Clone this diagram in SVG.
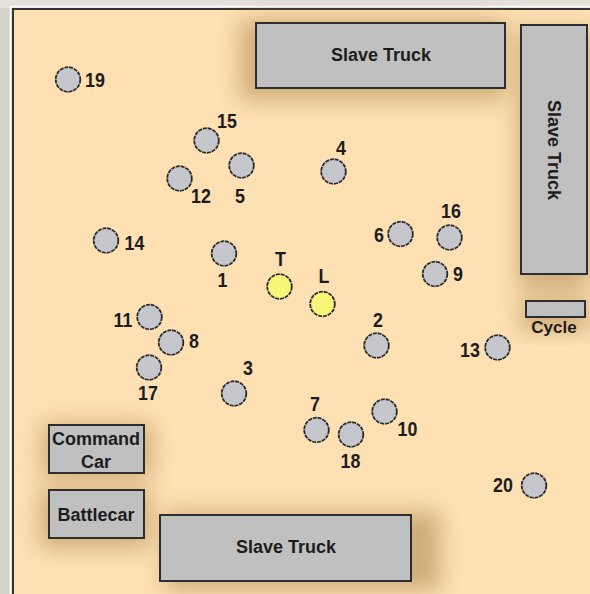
<svg xmlns="http://www.w3.org/2000/svg" width="590" height="594" viewBox="0 0 590 594">
<defs>
<linearGradient id="bgL" x1="0" y1="0" x2="1" y2="0">
<stop offset="0" stop-color="#d6d3cb"/><stop offset="1" stop-color="#eeece6"/>
</linearGradient>
<filter id="blur" x="-50%" y="-50%" width="200%" height="200%"><feGaussianBlur stdDeviation="11"/></filter>
<style>
.box{fill:#c0c0c0;stroke:#2e2e2e;stroke-width:2}
.shadow{fill:#b08a55;opacity:0.6;filter:url(#blur)}
.node{fill:#c6c7cc;stroke:#2a2a2a;stroke-width:1.8;stroke-dasharray:4 0.9}
.lead{fill:#f7f77a;stroke:#2a2a2a;stroke-width:1.8;stroke-dasharray:4 0.9}
.lbl{font-family:"Liberation Sans",Arial,sans-serif;font-weight:bold;font-size:21px;fill:#1c1c1c;text-anchor:middle}
.btxt{font-family:"Liberation Sans",Arial,sans-serif;font-weight:bold;font-size:18px;fill:#1c1c1c;text-anchor:middle}
</style>
</defs>
<rect x="0" y="0" width="590" height="594" fill="url(#bgL)"/>
<rect x="0" y="0" width="590" height="8" fill="#e4e1da"/>
<line x1="11" y1="6.5" x2="590" y2="6.5" stroke="#ffffff" stroke-width="1.5"/>
<line x1="10.5" y1="6" x2="10.5" y2="594" stroke="#ffffff" stroke-width="1.5"/>
<rect x="13" y="9" width="600" height="600" fill="#fee0b3" stroke="#333333" stroke-width="2"/>

<g id="shadows">
<rect class="shadow" x="240" y="20" width="265" height="80"/>
<rect class="shadow" x="518" y="30" width="72" height="260"/>
<rect class="shadow" x="520" y="300" width="70" height="30"/>
<rect class="shadow" x="42" y="424" width="110" height="54"/>
<rect class="shadow" x="40" y="490" width="110" height="58"/>
<rect class="shadow" x="165" y="512" width="275" height="78"/>
</g>

<g id="connectors"/>

<g id="slave-truck-top"><rect class="box" x="256" y="23" width="249" height="65"/><text class="btxt" x="381" y="61">Slave Truck</text></g>
<g id="slave-truck-right"><rect class="box" x="521" y="25" width="66" height="249"/><text class="btxt" transform="translate(554,150) rotate(90)" x="0" y="6">Slave Truck</text></g>
<g id="cycle"><rect class="box" x="526" y="301" width="59" height="16"/><text class="btxt" x="554" y="333" style="font-size:17px">Cycle</text></g>
<g id="command-car"><rect class="box" x="49" y="425" width="95" height="48"/><text class="btxt" x="96" y="445">Command</text><text class="btxt" x="96" y="468">Car</text></g>
<g id="battlecar"><rect class="box" x="49" y="490" width="95" height="48"/><text class="btxt" x="96" y="521">Battlecar</text></g>
<g id="slave-truck-bottom"><rect class="box" x="160" y="515" width="251" height="66"/><text class="btxt" x="286" y="553">Slave Truck</text></g>

<g id="n19"><circle class="node" cx="68" cy="79.5" r="12.3"/><text class="lbl" transform="translate(95,87) scale(0.85,1)">19</text></g>
<g id="n15"><circle class="node" cx="206.5" cy="140.5" r="12.3"/><text class="lbl" transform="translate(227,128) scale(0.85,1)">15</text></g>
<g id="n5"><circle class="node" cx="241.5" cy="165.5" r="12.3"/><text class="lbl" transform="translate(240,203) scale(0.85,1)">5</text></g>
<g id="n12"><circle class="node" cx="179.5" cy="178.5" r="12.3"/><text class="lbl" transform="translate(201,203) scale(0.85,1)">12</text></g>
<g id="n4"><circle class="node" cx="333.5" cy="171.5" r="12.3"/><text class="lbl" transform="translate(341,155) scale(0.85,1)">4</text></g>
<g id="n14"><circle class="node" cx="106" cy="240.5" r="12.3"/><text class="lbl" transform="translate(134.5,250) scale(0.85,1)">14</text></g>
<g id="n1"><circle class="node" cx="224" cy="253.5" r="12.3"/><text class="lbl" transform="translate(222.5,287) scale(0.85,1)">1</text></g>
<g id="nT"><circle class="lead" cx="279.5" cy="286.5" r="12.3"/><text class="lbl" transform="translate(280.5,266) scale(0.85,1)">T</text></g>
<g id="nL"><circle class="lead" cx="322.5" cy="304" r="12.3"/><text class="lbl" transform="translate(324,283) scale(0.85,1)">L</text></g>
<g id="n6"><circle class="node" cx="400.5" cy="234" r="12.3"/><text class="lbl" transform="translate(379,242) scale(0.85,1)">6</text></g>
<g id="n16"><circle class="node" cx="449.5" cy="237.5" r="12.3"/><text class="lbl" transform="translate(451,218) scale(0.85,1)">16</text></g>
<g id="n9"><circle class="node" cx="435" cy="274" r="12.3"/><text class="lbl" transform="translate(458,281) scale(0.85,1)">9</text></g>
<g id="n11"><circle class="node" cx="149.5" cy="317" r="12.3"/><text class="lbl" transform="translate(123,327) scale(0.85,1)">11</text></g>
<g id="n8"><circle class="node" cx="171" cy="342.5" r="12.3"/><text class="lbl" transform="translate(194,348) scale(0.85,1)">8</text></g>
<g id="n17"><circle class="node" cx="149" cy="367.5" r="12.3"/><text class="lbl" transform="translate(148,400) scale(0.85,1)">17</text></g>
<g id="n3"><circle class="node" cx="234" cy="393.5" r="12.3"/><text class="lbl" transform="translate(248,375) scale(0.85,1)">3</text></g>
<g id="n2"><circle class="node" cx="376.5" cy="345.5" r="12.3"/><text class="lbl" transform="translate(378,327) scale(0.85,1)">2</text></g>
<g id="n13"><circle class="node" cx="497.5" cy="347.5" r="12.3"/><text class="lbl" transform="translate(470,357) scale(0.85,1)">13</text></g>
<g id="n7"><circle class="node" cx="316.5" cy="430" r="12.3"/><text class="lbl" transform="translate(315,411) scale(0.85,1)">7</text></g>
<g id="n18"><circle class="node" cx="351" cy="434.5" r="12.3"/><text class="lbl" transform="translate(350.5,468) scale(0.85,1)">18</text></g>
<g id="n10"><circle class="node" cx="384.5" cy="411.5" r="12.3"/><text class="lbl" transform="translate(407.5,436) scale(0.85,1)">10</text></g>
<g id="n20"><circle class="node" cx="534" cy="485.5" r="12.3"/><text class="lbl" transform="translate(503,492) scale(0.85,1)">20</text></g>
</svg>
